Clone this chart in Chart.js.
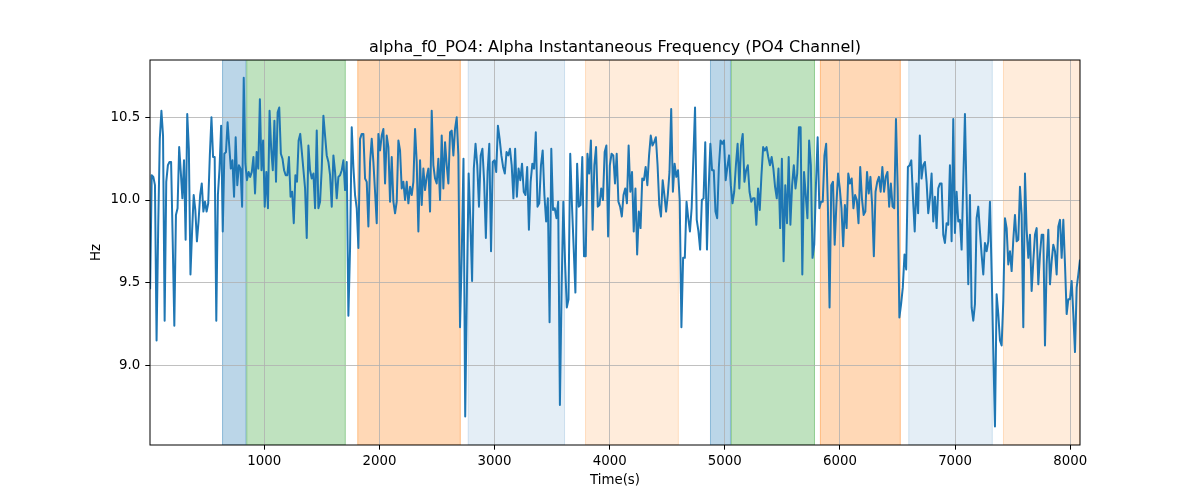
<!DOCTYPE html>
<html>
<head>
<meta charset="utf-8">
<script src="https://cdn.jsdelivr.net/npm/chart.js@4.4.1/dist/chart.umd.min.js"></script>
<style>
  html, body { margin: 0; padding: 0; background: #fff; }
  #wrap { width: 1200px; height: 500px; }
</style>
</head>
<body>
<div id="wrap"><canvas id="chart" width="1200" height="500"></canvas></div>
<script>
// time bounds of each stretch of samples (s)
const SEG_EDGES = [8, 1354, 2700, 4046, 5392, 6738, 8085];

// instantaneous frequency (Hz), read stretch by stretch
const SEG_1 = [9.46, 10.15, 10.14, 10.09, 9.15, 9.83, 10.37, 10.54, 10.39, 9.27, 10.11, 10.21, 10.23, 10.23, 9.75, 9.24,
  9.91, 9.95, 10.32, 10.17, 10.01, 10.24, 9.76, 10.52, 10.31, 9.55, 9.81, 10.03, 9.94, 9.75, 9.87, 10.03, 10.10, 9.93,
  9.99, 9.93, 9.98, 10.27, 10.50, 10.26, 10.26, 9.27, 10.03, 10.19, 10.45, 9.81, 10.28, 10.29, 10.47, 10.33, 10.19,
  10.24, 10.02, 10.38, 10.09, 10.21, 10.19, 9.96, 10.74, 10.22, 10.12, 10.17, 10.14, 10.17, 10.26, 10.04, 10.29, 10.19,
  10.61, 10.18, 10.36, 9.96, 10.17, 9.95, 10.54, 10.31, 10.18, 10.48, 10.11, 10.53, 10.56, 10.28, 10.25, 10.18, 10.15,
  10.15, 10.26, 10.02, 10.05, 9.86, 10.15, 10.11, 10.36, 10.40, 10.29, 10.18];
const SEG_2 = [10.07, 9.77, 10.33, 10.18, 10.13, 10.16, 9.95, 10.42, 9.95, 9.99, 10.19, 10.51, 10.39, 10.27, 10.23, 10.15,
  9.96, 10.27, 10.17, 10.01, 10.14, 10.15, 10.18, 10.24, 10.06, 10.23, 9.30, 9.71, 10.44, 10.20, 10.03, 9.95, 9.71,
  10.37, 10.40, 10.40, 10.13, 10.11, 9.84, 10.23, 10.37, 10.23, 10.05, 9.86, 10.40, 10.30, 10.39, 10.43, 10.10, 10.39,
  10.32, 9.99, 10.26, 9.99, 9.92, 9.99, 10.36, 10.30, 10.07, 10.11, 10.00, 10.11, 9.98, 10.08, 10.03, 10.11, 10.43,
  10.23, 9.81, 10.24, 9.97, 10.19, 10.06, 10.14, 10.19, 9.93, 10.54, 10.21, 10.13, 10.10, 10.25, 10.00, 10.39, 10.07,
  10.35, 10.21, 10.10, 10.41, 10.42, 10.27, 10.43, 10.50, 10.27];
const SEG_3 = [9.23, 9.67, 10.25, 8.69, 9.47, 10.16, 9.87, 9.51, 10.19, 10.34, 10.21, 9.96, 10.27, 10.31, 10.11, 9.77,
  10.17, 10.34, 9.69, 10.23, 10.24, 10.17, 10.45, 10.37, 10.27, 10.20, 10.16, 10.29, 10.27, 10.31, 10.21, 10.01, 10.31,
  10.02, 10.19, 10.12, 10.22, 10.05, 10.03, 10.20, 9.82, 10.11, 10.22, 10.19, 10.41, 9.96, 9.98, 10.21, 10.30, 10.03,
  9.87, 10.01, 9.26, 10.31, 9.94, 9.95, 9.89, 9.99, 8.76, 9.47, 9.99, 9.62, 9.35, 9.40, 10.28, 9.97, 9.71, 9.44, 10.22,
  9.96, 9.97, 10.26, 9.66, 9.66, 10.28, 10.16, 10.36, 9.82, 10.21, 10.32, 9.96, 9.97, 10.07, 10.00, 10.29, 10.33, 9.78,
  10.21, 10.28, 10.27];
const SEG_4 = [10.10, 10.28, 9.99, 9.96, 9.90, 10.03, 10.07, 9.98, 10.33, 10.05, 10.17, 9.81, 10.07, 9.67, 9.93, 9.83,
  10.13, 10.12, 10.20, 10.09, 10.27, 10.39, 10.33, 10.35, 10.38, 10.21, 9.97, 9.90, 10.12, 10.03, 9.93, 10.03, 10.17,
  10.55, 10.05, 10.22, 10.14, 10.18, 10.00, 9.23, 9.65, 9.65, 9.99, 9.89, 9.81, 9.95, 10.25, 10.56, 9.88, 9.81, 9.70,
  10.00, 10.01, 10.35, 9.70, 10.07, 10.34, 10.18, 10.18, 9.93, 9.89, 10.20, 10.36, 10.34, 10.36, 10.12, 10.20, 10.27,
  10.09, 9.98, 10.05, 10.21, 10.34, 10.07, 10.33, 10.40, 10.11, 10.18, 10.21, 10.05, 9.99, 10.01, 10.01, 9.85, 10.07,
  9.94, 10.15, 10.32, 10.30, 10.32, 10.26];
const SEG_5 = [10.21, 10.26, 10.19, 10.08, 10.01, 10.19, 9.83, 10.25, 9.63, 10.09, 9.86, 10.26, 9.85, 10.09, 10.21,
  10.07, 10.16, 10.44, 10.44, 9.55, 10.17, 10.03, 9.89, 10.36, 10.21, 9.65, 9.73, 10.09, 10.38, 9.95, 9.99, 9.99, 10.27,
  10.34, 9.97, 9.35, 10.09, 10.11, 9.73, 9.97, 10.16, 10.07, 9.95, 9.72, 9.97, 9.83, 10.16, 10.10, 10.13, 9.95, 10.03,
  10.00, 9.86, 10.20, 10.01, 9.91, 9.93, 10.17, 10.04, 10.14, 9.97, 9.66, 10.05, 10.11, 10.14, 10.05, 10.20, 10.05,
  10.14, 10.17, 9.96, 10.10, 9.96, 9.95, 10.49, 10.07, 9.29, 9.37, 9.47, 9.67, 9.58, 10.20, 10.21, 10.24, 10.01, 9.81,
  10.10, 9.92, 10.39, 10.13, 10.21];
const SEG_6 = [10.23, 10.11, 9.92, 10.01, 10.16, 9.87, 10.02, 9.83, 10.07, 10.10, 10.10, 9.79, 9.74, 9.86, 9.85, 10.21,
  9.75, 10.49, 9.80, 10.05, 9.87, 9.88, 9.70, 10.11, 10.52, 10.01, 9.49, 10.03, 9.35, 9.27, 9.37, 9.89, 9.96, 9.81, 9.67,
  9.55, 9.74, 9.69, 9.75, 9.99, 9.57, 9.09, 8.63, 9.43, 9.31, 9.15, 9.12, 9.39, 9.89, 9.83, 9.61, 9.69, 9.57, 9.76, 9.91,
  9.75, 9.76, 10.08, 9.91, 9.23, 10.16, 9.82, 9.65, 9.79, 9.45, 9.63, 9.79, 9.83, 9.49, 9.67, 9.79, 9.79, 9.12, 9.61,
  9.82, 9.49, 9.63, 9.73, 9.69, 9.55, 9.84, 9.88, 9.65, 9.88, 9.61, 9.31, 9.40, 9.40, 9.51, 9.31, 9.08, 9.47, 9.55, 9.64];
const SEGMENTS = [SEG_1, SEG_2, SEG_3, SEG_4, SEG_5, SEG_6];

// shaded intervals (s)
const SPAN_STARTS = [633, 844, 1808, 2767, 3786, 4871, 5053, 5826, 6594, 7416];
const SPAN_ENDS   = [844, 1707, 2706, 3612, 4600, 5053, 5783, 6528, 7327, 8085];
const SPAN_COLORS = [
  'rgba(31,119,180,0.3)', 'rgba(44,160,44,0.3)', 'rgba(255,127,14,0.3)', 'rgba(31,119,180,0.12)', 'rgba(255,127,14,0.15)',
  'rgba(31,119,180,0.3)', 'rgba(44,160,44,0.3)', 'rgba(255,127,14,0.3)', 'rgba(31,119,180,0.12)', 'rgba(255,127,14,0.15)'
];

const X_TICKS = [1000, 2000, 3000, 4000, 5000, 6000, 7000, 8000];
const Y_TICKS = [9.0, 9.5, 10.0, 10.5];
const X_RANGE = [7, 8085];
const Y_RANGE = [8.518, 10.847];

// spread each stretch evenly across its time bounds
const points = [];
SEGMENTS.forEach((seg, k) => {
  const t0 = SEG_EDGES[k], t1 = SEG_EDGES[k + 1];
  const last = k === SEGMENTS.length - 1;
  const step = (t1 - t0) / (last ? seg.length - 1 : seg.length);
  seg.forEach((v, i) => points.push({ x: t0 + i * step, y: v }));
});

// shaded spans go under the grid, frame goes on top
const spansPlugin = {
  id: 'spans',
  beforeDraw(chart) {
    const { ctx, chartArea: a, scales: { x } } = chart;
    ctx.save();
    ctx.beginPath();
    ctx.rect(a.left, a.top, a.right - a.left, a.bottom - a.top);
    ctx.clip();
    SPAN_STARTS.forEach((s, i) => {
      const x0 = x.getPixelForValue(s);
      const x1 = x.getPixelForValue(SPAN_ENDS[i]);
      ctx.fillStyle = SPAN_COLORS[i];
      ctx.fillRect(x0, a.top, x1 - x0, a.bottom - a.top);
      ctx.strokeStyle = SPAN_COLORS[i];
      ctx.lineWidth = 1;
      ctx.strokeRect(x0 + 0.5, a.top, x1 - x0 - 1, a.bottom - a.top);
    });
    ctx.restore();
  },
  afterDraw(chart) {
    const { ctx, chartArea: a } = chart;
    ctx.save();
    ctx.strokeStyle = '#000';
    ctx.lineWidth = 1;
    ctx.strokeRect(a.left, a.top, a.right - a.left, a.bottom - a.top);
    ctx.restore();
  }
};

Chart.defaults.font.family = "'DejaVu Sans', sans-serif";
Chart.defaults.font.size = 13.33;
Chart.defaults.color = '#000';

const gridOpts = { color: '#b0b0b0', lineWidth: 0.8, tickColor: '#000', tickLength: 4.7, tickWidth: 1 };

new Chart(document.getElementById('chart'), {
  type: 'line',
  data: {
    datasets: [{
      data: points,
      borderColor: '#1f77b4',
      borderWidth: 2,
      borderJoinStyle: 'round',
      pointRadius: 0,
      tension: 0,
      fill: false
    }]
  },
  options: {
    responsive: false,
    animation: false,
    layout: { padding: { left: 0, right: 120, top: 0, bottom: 0 } },
    plugins: {
      legend: { display: false },
      tooltip: { enabled: false },
      title: {
        display: true,
        fullSize: false,
        text: 'alpha_f0_PO4: Alpha Instantaneous Frequency (PO4 Channel)',
        font: { size: 16, weight: 'normal' },
        color: '#000',
        padding: { top: 38.4, bottom: 2.4 }
      }
    },
    scales: {
      x: {
        type: 'linear',
        min: X_RANGE[0],
        max: X_RANGE[1],
        afterBuildTicks: s => { s.ticks = X_TICKS.map(v => ({ value: v })); },
        afterFit: s => { s.height = 55; },
        ticks: { padding: 4, maxRotation: 0, callback: v => String(v) },
        grid: gridOpts,
        border: { display: false },
        title: { display: true, text: 'Time(s)', padding: { top: 0, bottom: 11 } }
      },
      y: {
        type: 'linear',
        min: Y_RANGE[0],
        max: Y_RANGE[1],
        afterBuildTicks: s => { s.ticks = Y_TICKS.map(v => ({ value: v })); },
        afterFit: s => { s.width = 150; },
        ticks: { padding: 5, callback: v => Number(v).toFixed(1) },
        grid: gridOpts,
        border: { display: false },
        title: { display: true, text: 'Hz', padding: { top: 89, bottom: 0 } }
      }
    }
  },
  plugins: [spansPlugin]
});
</script>
</body>
</html>
